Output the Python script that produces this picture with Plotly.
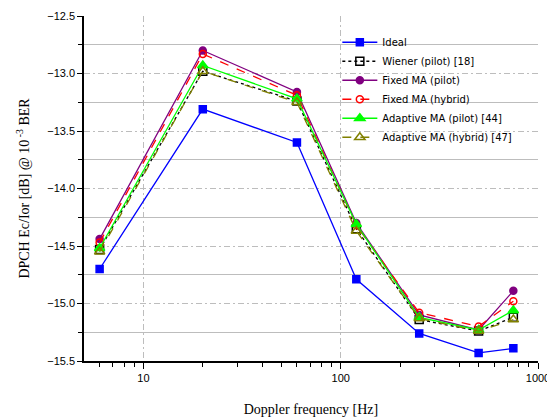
import plotly.graph_objects as go
import math

doppler = [6, 20, 60, 120, 250, 500, 750]
ideal = [-14.70, -13.31, -13.60, -14.79, -15.26, -15.43, -15.39]
wiener = [-14.53, -12.98, -13.24, -14.35, -15.14, -15.24, -15.12]
fixed_pilot = [-14.44, -12.80, -13.16, -14.30, -15.10, -15.23, -14.89]
fixed_hybrid = [-14.47, -12.83, -13.19, -14.32, -15.08, -15.20, -14.98]
adapt_pilot = [-14.52, -12.93, -13.22, -14.31, -15.12, -15.23, -15.06]
adapt_hybrid = [-14.55, -12.98, -13.25, -14.37, -15.13, -15.24, -15.14]

x_major = [10, 100, 1000]
x_minor = [6, 7, 8, 9, 20, 30, 40, 50, 60, 70, 80, 90,
           200, 300, 400, 500, 600, 700, 800, 900]

series = [
    ("Ideal", ideal, "#0000FF", "solid", "square", 7, "#0000FF"),
    ("Wiener (pilot) [18]", wiener, "#000000", "dot", "square-open", 8, "#000000"),
    ("Fixed MA (pilot)", fixed_pilot, "#800080", "solid", "circle", 7, "#800080"),
    ("Fixed MA (hybrid)", fixed_hybrid, "#FF0000", "dash", "circle-open", 7, "#FF0000"),
    ("Adaptive MA (pilot) [44]", adapt_pilot, "#00FF00", "solid", "triangle-up", 9, "#00FF00"),
    ("Adaptive MA (hybrid) [47]", adapt_hybrid, "#808000", "dash", "triangle-up-open", 9, "#808000"),
]

fig = go.Figure()
for name, vals, color, dash, sym, size, mcol in series:
    fig.add_trace(go.Scatter(
        x=doppler, y=vals, name=name, mode="lines+markers",
        line=dict(color=color, width=1.3, dash=dash),
        marker=dict(symbol=sym, size=size, color=mcol,
                    line=dict(color=mcol, width=1.5)),
    ))

gridc = "#BDBDBD"
fig.update_layout(
    template="none",
    width=547, height=411,
    margin=dict(l=76, r=17, t=8, b=58),
    paper_bgcolor="white", plot_bgcolor="white",
    font=dict(family="Arial, Liberation Sans, sans-serif", size=11, color="#000"),
    legend=dict(x=0.558, y=0.966, xanchor="left", yanchor="top",
                bgcolor="rgba(0,0,0,0)", borderwidth=0,
                font=dict(size=10, family="DejaVu Sans, sans-serif"),
                itemwidth=35, tracegroupgap=0),
    xaxis=dict(
        type="log", range=[math.log10(5), 3], automargin=False,
        tickmode="array", tickvals=x_major, ticktext=[str(v) for v in x_major],
        ticks="outside", ticklen=6, tickwidth=1.2, tickcolor="#000",
        showline=True, linecolor="#000", linewidth=1.5,
        showgrid=True, gridcolor=gridc, griddash="6px,3px,2px,3px", gridwidth=1,
        zeroline=False,
        minor=dict(tickmode="array", tickvals=x_minor, ticks="outside", ticklen=4,
                   tickwidth=1.2, tickcolor="#000", showgrid=False),
        title=dict(text="Doppler frequency [Hz]",
                   font=dict(family="Times New Roman, Liberation Serif, serif", size=14),
                   standoff=21),
    ),
    yaxis=dict(
        range=[-15.5, -12.5], dtick=0.5, tick0=-12.5, tickformat=".1f", automargin=False,
        ticks="outside", ticklen=5, tickwidth=1.2, tickcolor="#000",
        showline=True, linecolor="#000", linewidth=1.5,
        showgrid=True, gridcolor=gridc, griddash="6px,3px,2px,3px", gridwidth=1,
        zeroline=False,
        minor=dict(dtick=0.25, tick0=-12.5, ticks="outside", ticklen=4, tickwidth=1.2,
                   tickcolor="#000", showgrid=True, gridcolor=gridc, griddash="solid", gridwidth=1.2),
        title=dict(text="DPCH Ec/Ior [dB] @ 10<sup> -3</sup> BER",
                   font=dict(family="Times New Roman, Liberation Serif, serif", size=14),
                   standoff=14),
    ),
)

fig.write_html("out.html")
